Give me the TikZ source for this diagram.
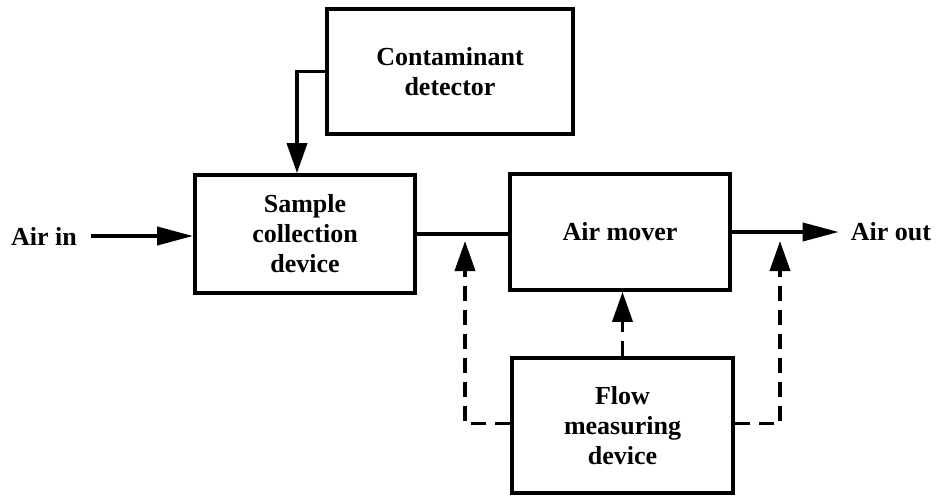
\documentclass[tikz,border=0pt]{standalone}
\usepackage{fontspec}
\setmainfont{Liberation Serif}
\usetikzlibrary{arrows.meta}
\begin{document}
\begin{tikzpicture}[x=1pt,y=-1pt,
  blk/.style={draw,line width=3.8pt,rectangle,align=center,inner sep=0pt,
    font=\fontsize{26}{30}\selectfont\bfseries},
  lbl/.style={inner sep=0pt,font=\fontsize{26}{30}\selectfont\bfseries},
  conn/.style={line width=3.8pt},
  arr/.style={conn,-{Triangle[length=30pt,width=20pt]}},
  harr/.style={conn,-{Triangle[length=36pt,width=18pt]}},
  darr/.style={conn,dash pattern=on 15pt off 9pt,-{Triangle[length=30pt,width=20pt]}}]
\useasboundingbox (0,0) rectangle (937,496);
\node[blk,minimum width=246pt,minimum height=125pt] (det) at (450,71.5) {Contaminant\\detector};
\node[blk,minimum width=220pt,minimum height=118pt] (samp) at (305,234) {Sample\\collection\\device};
\node[blk,minimum width=220pt,minimum height=116pt] (mover) at (620,232) {Air mover};
\node[blk,minimum width=221pt,minimum height=135pt] (flow) at (622.5,425.5) {Flow\\measuring\\device};
\node[lbl] (ain) at (44,236) {Air in};
\node[lbl] (aout) at (891,232) {Air out};
\coordinate (lt) at (465,241);
\coordinate (rt) at (780,241);
\draw[arr] (det.west) -| ([xshift=-8pt]samp.north);
\draw[harr,shorten <=14pt] (ain.east) -- (ain.east -| samp.west);
\draw[conn] (samp.east) -- (samp.east -| mover.west);
\draw[harr,shorten >=12pt] (mover.east) -- (mover.east -| aout.west);
\draw[darr] ([yshift=2pt]flow.west) -| (lt);
\draw[darr] ([yshift=2pt]flow.east) -| (rt);
\draw[darr] (flow.north) -- (flow.north |- mover.south);
\end{tikzpicture}
\end{document}
